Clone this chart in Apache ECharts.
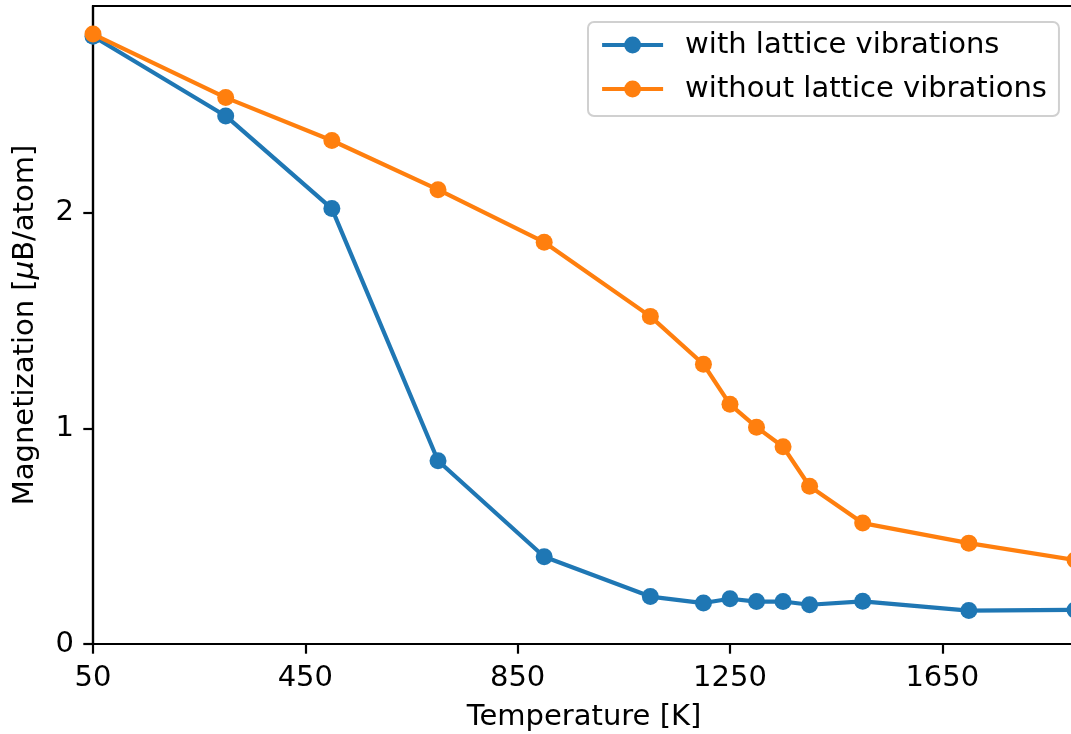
<!DOCTYPE html>
<html>
<head>
<meta charset="utf-8">
<script src="https://cdn.jsdelivr.net/npm/echarts@6/dist/echarts.min.js"></script>
<style>
html,body{margin:0;padding:0;background:#fff;}
#chart{width:1071px;height:734px;}
</style>
</head>
<body>
<div id="chart"></div>
<script>
const temperatures = [50, 300, 500, 700, 900, 1100, 1200, 1250, 1300, 1350, 1400, 1500, 1700, 1900];
const withLattice = [2.82, 2.45, 2.02, 0.85, 0.405, 0.22, 0.19, 0.21, 0.197, 0.197, 0.182, 0.198, 0.155, 0.158];
const withoutLattice = [2.83, 2.535, 2.336, 2.108, 1.864, 1.52, 1.298, 1.112, 1.006, 0.915, 0.732, 0.561, 0.468, 0.39];
const xTicks = [50, 450, 850, 1250, 1650];
const yTicks = [0, 1, 2];
const seriesNames = ['with lattice vibrations', 'without lattice vibrations'];

const FONT = 'DejaVu Sans';
const FS = 29;

function pairs(xs, ys) { return xs.map((x, i) => [x, ys[i]]); }

const chart = echarts.init(document.getElementById('chart'), null, {renderer: 'canvas'});
chart.setOption({
  animation: false,
  backgroundColor: '#fff',
  grid: {left: 93, top: 6, right: -4, bottom: 90, containLabel: false, outerBoundsMode: 'none',
    show: true, borderColor: '#000', borderWidth: 2.2, backgroundColor: 'transparent'},
  xAxis: {
    type: 'value', min: 50, max: 1900,
    name: 'Temperature [K]', nameLocation: 'middle', nameGap: 56,
    nameTextStyle: {fontFamily: FONT, fontSize: FS, color: '#000', lineHeight: 34},
    axisLine: {lineStyle: {color: '#000', width: 2.2}},
    axisTick: {show: true, length: 9.7, lineStyle: {color: '#000', width: 2.2}, customValues: xTicks},
    axisLabel: {fontFamily: FONT, fontSize: FS, color: '#000', margin: 19, customValues: xTicks, lineHeight: 30,
      formatter: v => String(v)},
    splitLine: {show: false}
  },
  yAxis: {
    type: 'value', min: 0, max: 2.96,
    name: 'Magnetization [{i|μ}B/atom]', nameLocation: 'middle', nameGap: 51, nameRotate: 90,
    nameTextStyle: {fontFamily: FONT, fontSize: FS, color: '#000', lineHeight: 34,
      rich: {i: {fontFamily: FONT, fontSize: FS, fontStyle: 'italic', color: '#000'}}},
    axisLine: {show: true, lineStyle: {color: '#000', width: 2.2}},
    axisTick: {show: true, length: 9.7, lineStyle: {color: '#000', width: 2.2}, customValues: yTicks},
    axisLabel: {fontFamily: FONT, fontSize: FS, color: '#000', margin: 19, customValues: yTicks,
      formatter: v => String(v)},
    splitLine: {show: false}
  },
  legend: {
    orient: 'vertical', left: 588, top: 22,
    padding: [6, 12, 10, 12], itemGap: 10,
    itemWidth: 61, itemHeight: 21,
    backgroundColor: '#fff', borderColor: '#d0d0d0', borderWidth: 2, borderRadius: 6,
    lineStyle: {width: 4.2},
    textStyle: {fontFamily: FONT, fontSize: FS, color: '#000', lineHeight: 34, padding: [0, 0, 0, 17]},
    data: seriesNames
  },
  series: [
    {
      name: seriesNames[0], type: 'line', data: pairs(temperatures, withLattice),
      symbol: 'circle', symbolSize: 17, color: '#1f77b4',
      lineStyle: {width: 4.2, color: '#1f77b4'}, itemStyle: {color: '#1f77b4'}, z: 2
    },
    {
      name: seriesNames[1], type: 'line', data: pairs(temperatures, withoutLattice),
      symbol: 'circle', symbolSize: 17, color: '#ff7f0e',
      lineStyle: {width: 4.2, color: '#ff7f0e'}, itemStyle: {color: '#ff7f0e'}, z: 3
    }
  ]
});
</script>
</body>
</html>
